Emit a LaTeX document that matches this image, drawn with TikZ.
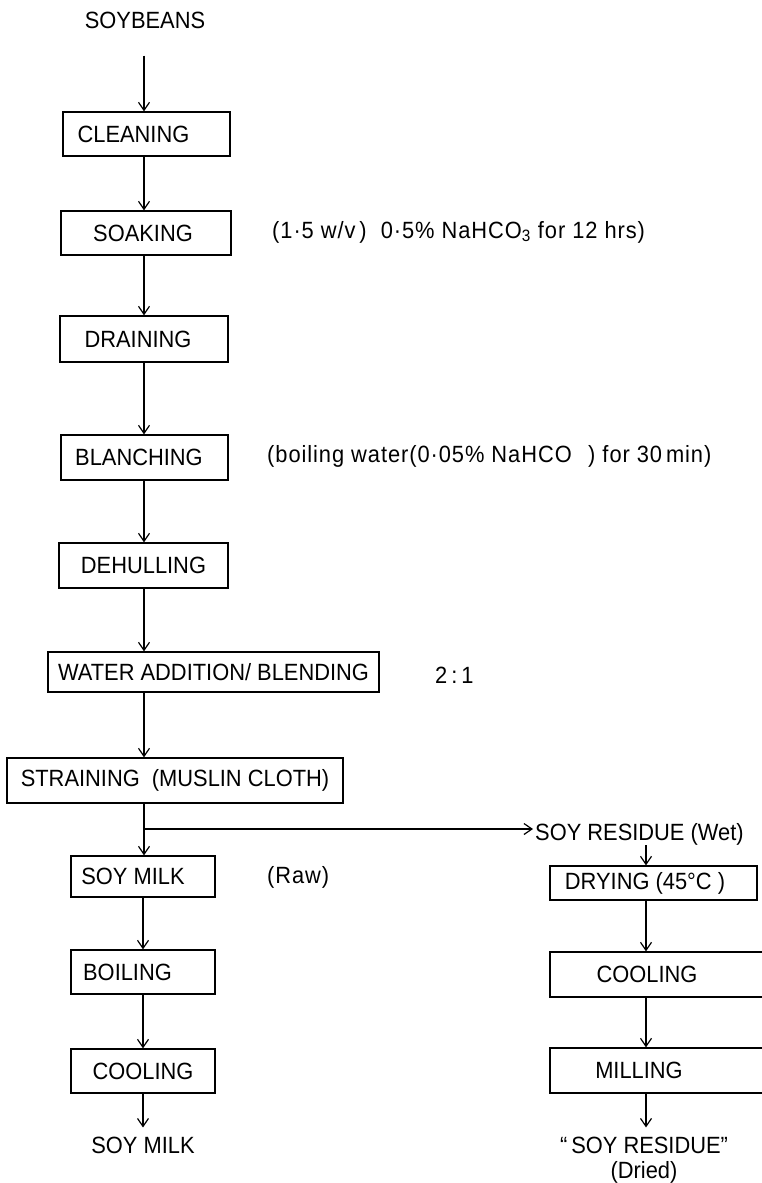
\documentclass[tikz,border=0pt]{standalone}
\usepackage{fontspec}
\setmainfont{Liberation Sans}[FakeStretch=0.93]
\newfontfamily\annfont{Liberation Sans}[FakeStretch=0.93,LetterSpace=4]
\usetikzlibrary{arrows.meta}
\begin{document}
\begin{tikzpicture}[x=1pt,y=-1pt,
  every node/.style={font=\fontsize{23.5}{25.5}\selectfont, inner sep=0pt},
  bx/.style 2 args={draw, line width=1.3pt, minimum width=#1pt, minimum height=#2pt},
  ann/.style={anchor=west, font=\fontsize{23.5}{25.5}\selectfont\annfont},
  ln/.style={line width=1.3pt},
  arr/.style={line width=1.2pt, -{Straight Barb[length=8pt,width=11pt,line width=1.2pt]}}]
\useasboundingbox (0,0) rectangle (762,1183);
\fill[white] (0,0) rectangle (762,1183);
\coordinate (colL) at (144,0);
\coordinate (colR) at (646,0);

% left column
\node (soy) at (145,20) {SOYBEANS};
\node[bx={167}{44}] (clean) at (146.5,134) {CLEANING\hspace*{26pt}};
\node[bx={170}{44}] (soak) at (146,233) {SOAKING\hspace*{6pt}};
\node[bx={168}{46}] (drain) at (144,339) {DRAINING\hspace*{12pt}};
\node[bx={167}{45}] (blanch) at (144.5,457.5) {BLANCHING\hspace*{11pt}};
\node[bx={169}{45}] (dehull) at (143.5,565.5) {DEHULLING};
\node[bx={331}{40}] (water) at (213.5,672) {WATER ADDITION/ BLENDING};
\node[bx={336}{45}] (strain) at (175,780.5) {STRAINING\ \ (MUSLIN CLOTH)};
\node[bx={144}{41}] (milk) at (143,876.5) {SOY MILK\hspace*{20pt}};
\node[bx={144}{44}] (boil) at (143,972) {BOILING\hspace*{31pt}};
\node[bx={144}{44}] (cool) at (143,1071) {COOLING};
\node (milkout) at (143,1145) {SOY MILK};

% annotations
\node[ann] (ann1) at (272,232) {(1·5 w/v\,)\ \ 0·5\% NaHCO\textsubscript{3}\ for 12 hrs)};
\node[ann] (ann2) at (267,456) {(boiling water(0·05\% NaHCO\hspace{0.7em}) for 30\,min)};
\node[ann] (ann3) at (435,675) {2\,:\,1};
\node[ann] (ann4) at (267,877) {(Raw)};

% right column
\node[anchor=west] (resw) at (535,834) {SOY RESIDUE (Wet)};
\node[bx={207}{34}] (dry) at (653.5,883) {DRYING (45°C )\hspace*{17pt}};
\node[bx={230}{45}] (cool2) at (665,974.5) {COOLING\hspace*{36pt}};
\node[bx={230}{45}] (mill) at (665,1070.5) {MILLING\hspace*{52pt}};
\node[align=center] (resd) at (644,1160) {``\,SOY RESIDUE''\\(Dried)};

% connectors left
\draw[arr, shorten <=27pt] (soy.south -| colL) -- (clean.north -| colL);
\draw[arr] (clean.south -| colL) -- (soak.north -| colL);
\draw[arr] (soak.south -| colL) -- (drain.north -| colL);
\draw[arr] (drain.south -| colL) -- (blanch.north -| colL);
\draw[arr] (blanch.south -| colL) -- (dehull.north -| colL);
\draw[arr] (dehull.south -| colL) -- (water.north -| colL);
\draw[arr] (water.south -| colL) -- (strain.north -| colL);
\coordinate (br) at (144,829);
\draw[ln] (strain.south -| br) -- (br);
\draw[arr] (br) -- (milk.north -| br);
\draw[arr, shorten >=2pt] (br) -- (br -| resw.west);
\draw[arr] (milk.south) -- (boil.north);
\draw[arr] (boil.south) -- (cool.north);
\draw[arr, shorten >=9pt] (cool.south) -- (milkout.north);

% connectors right
\draw[arr] (resw.south -| colR) -- (dry.north -| colR);
\draw[arr] (dry.south -| colR) -- (cool2.north -| colR);
\draw[arr] (cool2.south -| colR) -- (mill.north -| colR);
\draw[arr, shorten >=9pt] (mill.south -| colR) -- (resd.north -| colR);
\end{tikzpicture}
\end{document}
